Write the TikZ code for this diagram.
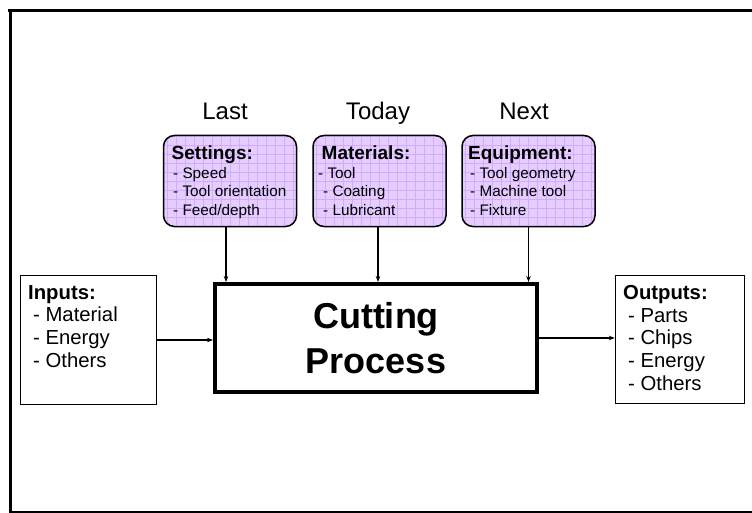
\documentclass[tikz,border=0pt]{standalone}
\usepackage{fontspec}
\setmainfont{Liberation Sans}
\usetikzlibrary{arrows.meta,calc}
\definecolor{lav}{RGB}{229,206,255}
\definecolor{lavgrid}{RGB}{210,172,250}
\tikzset{
  pbox/.style={draw=black, line width=1.5pt, rounded corners=11pt, fill=lav,
    minimum width=133pt, minimum height=91pt, inner sep=0pt,
    path picture={\draw[lavgrid, line width=0.5pt, step=9pt]
      (path picture bounding box.south west) grid (path picture bounding box.north east);}},
  ptext/.style={anchor=north west, align=left, inner sep=0pt, font=\fontsize{15.3}{18.5}\selectfont},
  sbox/.style={draw=black, line width=1.4pt, inner sep=0pt},
  stext/.style={anchor=north west, align=left, inner sep=0pt, font=\fontsize{20.3}{22.7}\selectfont},
  arr/.style={line width=1.2pt, -{Stealth[length=6pt,width=4.5pt]}},
  lbl/.style={anchor=base, inner sep=0pt, font=\fontsize{24}{28}\selectfont},
  frame/.style={draw=black, line width=3pt},
}
\begin{document}
\begin{tikzpicture}[x=1pt,y=-1pt]
\useasboundingbox (0,0) rectangle (752,513);
% frame
\draw[frame] (752,10.5) -- (8,10.5);
\draw[frame] (10.5,10.5) -- (10.5,513);
\draw[frame, line width=2pt] (10,511.5) -- (752,511.5);

% labels
\node[lbl] (lLast) at (225,120) {Last};
\node[lbl] (lToday) at (378,120) {Today};
\node[lbl] (lNext) at (524,120) {Next};

% purple boxes
\node[pbox] (set) at (230,181) {};
\node[pbox] (mat) at (379.5,181) {};
\node[pbox] (equ) at (528.5,181) {};
\node[ptext] (setT) at (171.5,146) {{\fontsize{19}{21}\selectfont\bfseries Settings:}\\\hspace{1.5pt}- Speed\\\hspace{1.5pt}- Tool orientation\\\hspace{1.5pt}- Feed/depth};
\node[ptext] (matT) at (321.5,146) {{\fontsize{19}{21}\selectfont\bfseries Materials:}\\\hspace{-3.5pt}- Tool\\\hspace{1.5pt}- Coating\\\hspace{1.5pt}- Lubricant};
\node[ptext] (equT) at (468,146) {{\fontsize{19}{21}\selectfont\bfseries Equipment:}\\\hspace{2pt}- Tool geometry\\\hspace{2pt}- Machine tool\\\hspace{2pt}- Fixture};

% process
\node[draw=black, line width=4pt, minimum width=322pt, minimum height=108pt, inner sep=0pt,
  align=center, font=\fontsize{36}{45}\selectfont\bfseries] (proc) at (376,338) {Cutting\\Process};

% inputs / outputs
\node[sbox, minimum width=136pt, minimum height=129pt] (inp) at (88.5,340) {};
\node[stext] (inpT) at (28,285) {{\bfseries Inputs:}\\\hspace{5pt}- Material\\\hspace{5pt}- Energy\\\hspace{5pt}- Others};
\node[sbox, minimum width=129pt, minimum height=128pt] (out) at (680,339.5) {};
\node[stext] (outT) at (623,285) {{\bfseries Outputs:}\\\hspace{5pt}- Parts\\\hspace{5pt}- Chips\\\hspace{5pt}- Energy\\\hspace{5pt}- Others};

% connectors
\draw[arr] ([xshift=-4pt]set.south) -- ([xshift=-4pt]set.south |- proc.north);
\draw[arr] ([xshift=-1.5pt]mat.south) -- ([xshift=-1.5pt]mat.south |- proc.north);
\draw[arr] (equ.south) -- (equ.south |- proc.north);
\draw[arr] (inp.east) -- (inp.east -| proc.west);
\draw[arr] (proc.east) -- (proc.east -| out.west);
\end{tikzpicture}
\end{document}
